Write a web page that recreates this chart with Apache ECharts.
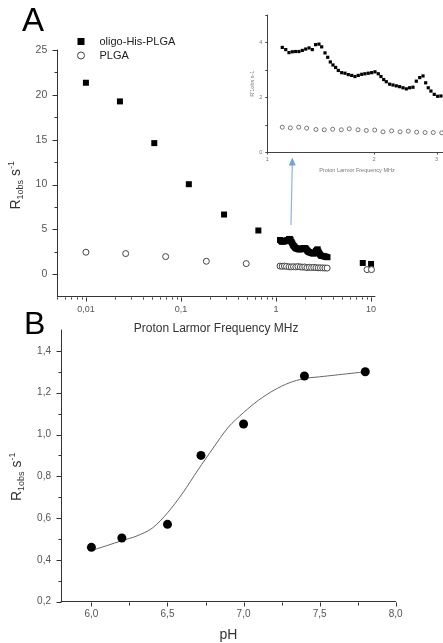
<!DOCTYPE html>
<html><head><meta charset="utf-8">
<script src="https://cdn.jsdelivr.net/npm/echarts@6/dist/echarts.min.js"></script>
<style>html,body{margin:0;padding:0;background:#fff}#c{width:443px;height:643px}</style>
</head><body><div id="c"></div>
<script>
// ---------- Panel A : main plot ----------
const freqSq = [0.01, 0.0228, 0.0524, 0.121, 0.284, 0.652, 8.18, 10.0];
const r1Sq   = [21.35, 19.27, 14.62, 10.04, 6.66, 4.88, 1.26, 1.15];
const freqCirc = [0.01, 0.0262, 0.069, 0.185, 0.486, 9.07, 10.1];
const r1Circ   = [2.46, 2.31, 1.97, 1.45, 1.19, 0.52, 0.52];
// ---------- Panel A : 1-3.5 MHz region (inset + cluster) ----------
const insetFreqSq = [1.102,1.127,1.151,1.176,1.202,1.228,1.255,1.283,1.311,1.339,1.368,1.398,1.423,1.454,1.48,1.505,1.531,1.558,1.585,1.62,1.655,1.691,1.729,1.766,1.804,1.845,1.884,1.925,1.968,2.011,2.054,2.09,2.128,2.164,2.212,2.26,2.309,2.36,2.412,2.464,2.518,2.573,2.629,2.688,2.746,2.794,2.841,2.891,2.954,3.02,3.085,3.16,3.24,3.32,3.40,3.48];
const insetR1Sq   = [3.82,3.74,3.63,3.66,3.67,3.67,3.71,3.76,3.80,3.74,3.92,3.94,3.84,3.62,3.46,3.29,3.18,3.09,2.98,2.90,2.88,2.83,2.80,2.76,2.80,2.84,2.86,2.88,2.90,2.93,2.86,2.76,2.65,2.57,2.48,2.45,2.42,2.39,2.35,2.31,2.35,2.37,2.59,2.72,2.78,2.53,2.35,2.23,2.11,2.04,2.05,2.02,1.99,1.96,1.93,1.90];
const insetFreqCirc = [1.102,1.161,1.226,1.291,1.371,1.447,1.528,1.616,1.702,1.801,1.901,2.007,2.118,2.24,2.366,2.496,2.635,2.782,2.935,3.10,3.27,3.45];
const insetR1Circ   = [0.915,0.89,0.915,0.88,0.83,0.82,0.84,0.82,0.855,0.82,0.795,0.81,0.745,0.78,0.745,0.77,0.735,0.72,0.72,0.71,0.70,0.69];
// ---------- Panel B ----------
const pH   = [6.0, 6.2, 6.5, 6.72, 7.0, 7.4, 7.8];
const r1pH = [0.46, 0.505, 0.57, 0.90, 1.05, 1.28, 1.30];
const fitPH = [6.0,6.1,6.2,6.3,6.4,6.5,6.6,6.7,6.8,6.9,7.0,7.1,7.2,7.3,7.4,7.5,7.6,7.7,7.8];
const fitR1 = [0.445,0.468,0.492,0.515,0.552,0.625,0.72,0.83,0.935,1.035,1.105,1.165,1.212,1.247,1.268,1.276,1.284,1.292,1.30];
// ---------- tick values ----------
const logMajorTicks = [0.01, 0.1, 1, 10];
const logMinorMult = [2,3,4,5,6,7,8,9];
const aYMajor = [0,5,10,15,20,25];
const aYMinor = [2.5,7.5,12.5,17.5,22.5];
const bXMajor = [6.0,6.5,7.0,7.5,8.0];
const bXMinor = [6.25,6.75,7.25,7.75];
const bYMajor = [0.2,0.4,0.6,0.8,1.0,1.2,1.4];
const bYMinor = [0.3,0.5,0.7,0.9,1.1,1.3];
const insetXLabels = ['1','2','3'];
const insetXTicks = [1,2,3];

const FONT = 'Liberation Sans, Arial, sans-serif';
const zip = (a,b) => a.map((v,i)=>[v,b[i]]);
const comma = v => String(v).replace('.', ',');

// minor log ticks
const logMinor = [];
[0.001,0.01,0.1,1].forEach(d => logMinorMult.forEach(m => { const v = +(d*m).toPrecision(3); if (v >= 0.005 && v <= 11) logMinor.push(v); }));

// items: [x, y, length, orient(0 = down, 1 = left)]
function tickSeries(xi, yi, items, color) {
  return {
    type: 'custom', xAxisIndex: xi, yAxisIndex: yi, silent: true, z: 5, clip: false,
    dimensions: ['x', 'y'],
    data: items.map(it => [it[0], it[1]]),
    renderItem: (params, api) => {
      const it = items[params.dataIndex];
      const p = api.coord([it[0], it[1]]);
      const len = it[2], o = it[3];
      const x = Math.round(p[0]) + 0.5, y = Math.round(p[1]) + 0.5;
      return { type: 'line',
        shape: o === 0 ? {x1:x, y1:y, x2:x, y2:y+len} : {x1:x, y1:y, x2:x-len, y2:y},
        style: { stroke: color || '#333', lineWidth: 1 } };
    }
  };
}

const rTitle = (big, small) => ({
  r:   { fontSize: big, lineHeight: big + 4, color: '#333', fontFamily: FONT, verticalAlign: 'middle' },
  sub: { fontSize: small, lineHeight: small, padding: [small, 0, 0, 0], color: '#333', fontFamily: FONT, verticalAlign: 'middle' },
  sup: { fontSize: small, lineHeight: small, padding: [0, 0, small, 0], color: '#333', fontFamily: FONT, verticalAlign: 'middle' }
});

const chart = echarts.init(document.getElementById('c'), null, {renderer: 'canvas'});

const option = {
  animation: false,
  backgroundColor: '#fff',
  grid: [
    { left: 57.3, top: 50, width: 317.7, height: 246.7, containLabel: false, outerBoundsMode: 'none' },
    { left: 61, top: 330, width: 334.7, height: 271.7, containLabel: false, outerBoundsMode: 'none' },
    { left: 267.3, top: 15, width: 179.3, height: 137.3, containLabel: false, outerBoundsMode: 'none' }
  ],
  xAxis: [
    { gridIndex: 0, type: 'log', logBase: 10, min: 0.005, max: 11,
      axisLine: { onZero: false, lineStyle: { color: '#333', width: 1 } },
      axisTick: { show: false }, splitLine: { show: false }, minorTick: {show:false},
      axisLabel: { margin: 8, fontSize: 9, color: '#555', fontFamily: FONT,
        formatter: v => { const e = Math.log10(v); return Math.abs(e - Math.round(e)) < 1e-6 ? comma(v) : ''; } },
      name: 'Proton Larmor Frequency MHz', nameLocation: 'middle', nameGap: 26,
      nameTextStyle: { fontSize: 12, color: '#333', fontFamily: FONT } },
    { gridIndex: 1, type: 'value', min: 5.8, max: 8.0, interval: 0.1,
      axisLine: { onZero: false, lineStyle: { color: '#333', width: 1 } },
      axisTick: { show: false }, splitLine: { show: false },
      axisLabel: { margin: 8, fontSize: 10, color: '#555', fontFamily: FONT,
        formatter: v => Math.abs(v*2 - Math.round(v*2)) < 1e-6 ? comma(v.toFixed(1)) : '' },
      name: 'pH', nameLocation: 'middle', nameGap: 26,
      nameTextStyle: { fontSize: 14, color: '#333', fontFamily: FONT } },
    { gridIndex: 2, type: 'log', logBase: 10, min: 1, max: 3.2,
      axisLine: { onZero: false, lineStyle: { color: '#444', width: 1 } },
      axisTick: { show: false }, axisLabel: { show: false }, splitLine: { show: false },
      name: 'Proton Larmor Frequency MHz', nameLocation: 'middle', nameGap: 15,
      nameTextStyle: { fontSize: 5.5, color: '#777', fontFamily: FONT, padding: [0, 0, 0, 0] } }
  ],
  yAxis: [
    { gridIndex: 0, type: 'value', min: -2.5, max: 25, interval: 2.5,
      axisLine: { show: true, onZero: false, lineStyle: { color: '#333', width: 1 } },
      axisTick: { show: false }, splitLine: { show: false },
      axisLabel: { margin: 10, fontSize: 10.5, color: '#555', fontFamily: FONT,
        formatter: v => (Math.abs(v % 5) < 1e-9 ? String(v) : '') },
      name: '{r|R}{sub|1obs}{r| s}{sup|-1}', nameLocation: 'middle', nameGap: 28, nameRotate: 90,
      nameTextStyle: { rich: rTitle(14, 9), padding: [0, 24, 0, 0] } },
    { gridIndex: 1, type: 'value', min: 0.2, max: 1.5, interval: 0.1,
      axisLine: { show: true, onZero: false, lineStyle: { color: '#333', width: 1 } },
      axisTick: { show: false }, splitLine: { show: false },
      axisLabel: { margin: 10, fontSize: 10, color: '#555', fontFamily: FONT,
        formatter: v => (Math.abs(v*5 - Math.round(v*5)) < 1e-6 && v < 1.45 ? comma(v.toFixed(1)) : '') },
      name: '{r|R}{sub|1obs}{r| s}{sup|-1}', nameLocation: 'middle', nameGap: 34, nameRotate: 90,
      nameTextStyle: { rich: rTitle(14, 9), padding: [0, 22, 0, 0] } },
    { gridIndex: 2, type: 'value', min: 0, max: 5, interval: 1,
      axisLine: { show: true, onZero: false, lineStyle: { color: '#444', width: 1 } },
      axisTick: { show: true, length: 2, lineStyle: { color: '#444' } }, splitLine: { show: false },
      axisLabel: { margin: 5, fontSize: 5.5, color: '#777', fontFamily: FONT,
        formatter: v => (v % 2 === 0 && v < 5 ? String(v) : '') },
      name: "R'1obs s-1", nameLocation: 'middle', nameGap: 11, nameRotate: 90,
      nameTextStyle: { fontSize: 5.5, color: '#777', fontFamily: FONT } }
  ],
  legend: {
    data: [
      { name: 'oligo-His-PLGA', icon: 'rect', itemStyle: { color: '#000' } },
      { name: 'PLGA', icon: 'circle', itemStyle: { color: '#fff', borderColor: '#444', borderWidth: 1 } }
    ],
    orient: 'vertical', left: 72, top: 31, itemWidth: 7, itemHeight: 7, itemGap: 3,
    selectedMode: false,
    textStyle: { fontSize: 11, color: '#222', fontFamily: FONT, padding: [0, 0, 0, 10] }
  },
  series: [
    { name: 'oligo-His-PLGA', type: 'scatter', xAxisIndex: 0, yAxisIndex: 0, symbol: 'rect', symbolSize: 6,
      itemStyle: { color: '#000', opacity: 1 }, data: zip(freqSq, r1Sq).concat(zip(insetFreqSq, insetR1Sq)) },
    { name: 'PLGA', type: 'scatter', xAxisIndex: 0, yAxisIndex: 0, symbol: 'circle', symbolSize: 6,
      itemStyle: { color: '#fff', borderColor: '#444', borderWidth: 1, opacity: 1 },
      data: zip(freqCirc, r1Circ).concat(zip(insetFreqCirc, insetR1Circ)) },
    { name: 'inset-sq', type: 'scatter', xAxisIndex: 2, yAxisIndex: 2, symbol: 'rect', symbolSize: 3.2,
      itemStyle: { color: '#000', opacity: 1 }, data: zip(insetFreqSq, insetR1Sq) },
    { name: 'inset-circ', type: 'scatter', xAxisIndex: 2, yAxisIndex: 2, symbol: 'circle', symbolSize: 4,
      itemStyle: { color: '#fff', borderColor: '#555', borderWidth: 0.8, opacity: 1 }, data: zip(insetFreqCirc, insetR1Circ) },
    { name: 'fit', type: 'line', xAxisIndex: 1, yAxisIndex: 1, smooth: 0.3, showSymbol: false, symbol: 'none',
      lineStyle: { color: '#666', width: 1 }, data: zip(fitPH, fitR1), z: 2 },
    { name: 'pH-data', type: 'scatter', xAxisIndex: 1, yAxisIndex: 1, symbol: 'circle', symbolSize: 9,
      itemStyle: { color: '#000', opacity: 1 }, data: zip(pH, r1pH), z: 3 },
    // ticks
    tickSeries(0, 0, logMajorTicks.map(v => [v, -2.5, 4, 0]).concat(logMinor.map(v => [v, -2.5, 2, 0]))),
    tickSeries(0, 0, aYMajor.map(v => [0.005, v, 5, 1]).concat(aYMinor.map(v => [0.005, v, 3, 1]))),
    tickSeries(1, 1, bXMajor.map(v => [v, 0.2, 4, 0]).concat(bXMinor.map(v => [v, 0.2, 3, 0]))),
    tickSeries(1, 1, bYMajor.map(v => [5.8, v, 5, 1]).concat(bYMinor.map(v => [5.8, v, 3, 1]))),
    tickSeries(2, 2, insetXTicks.map(v => [v, 0, 2, 0]), '#444'),
    { type: 'custom', xAxisIndex: 2, yAxisIndex: 2, silent: true, clip: false, z: 5,
      data: insetXTicks.map(v => [v, 0]),
      renderItem: (params, api) => {
        const p = api.coord([api.value(0), api.value(1)]);
        return { type: 'text', style: { text: insetXLabels[params.dataIndex], x: p[0], y: p[1] + 4,
          align: 'center', verticalAlign: 'top', font: '5.5px ' + FONT, fill: '#777' } };
      } }
  ],
  graphic: [
    { type: 'line', shape: { x1: 291, y1: 225, x2: 292.3, y2: 164 }, style: { stroke: '#8bb5e3', lineWidth: 1.2 }, silent: true },
    { type: 'polygon', shape: { points: [[292.3, 157.5], [288.8, 165.5], [295.8, 165.5]] }, style: { fill: '#6fa3dc' }, silent: true },
    { type: 'text', style: { text: 'A', x: 22, y: 22, verticalAlign: 'middle', font: '33px ' + FONT, fill: '#000' }, silent: true },
    { type: 'text', style: { text: 'B', x: 24, y: 325, verticalAlign: 'middle', font: '32px ' + FONT, fill: '#000' }, silent: true }
  ]
};
chart.setOption(option);
</script>
</body></html>
